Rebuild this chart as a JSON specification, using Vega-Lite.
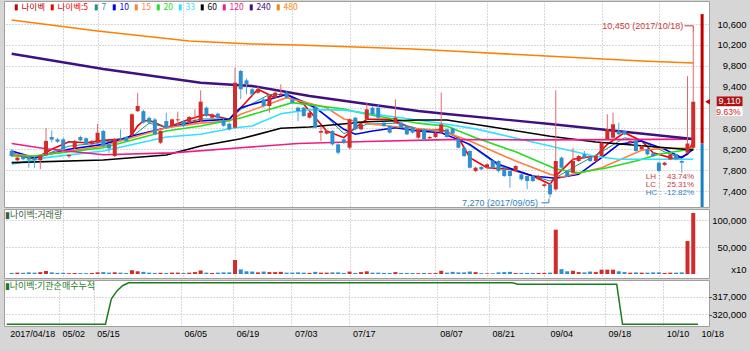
{
  "$schema": "https://vega.github.io/schema/vega-lite/v6.json",
  "background": "#d6d6d6",
  "padding": {"left": 3, "top": 0, "right": 0, "bottom": 11},
  "spacing": 2,
  "bounds": "flush",
  "config": {
    "view": {"stroke": "#a0a0a0", "fill": "#ffffff"},
    "font": "Liberation Sans",
    "axis": {"labelFont": "Liberation Sans", "labelFontSize": 9, "labelColor": "#000000", "domain": false, "ticks": false, "tickSize": 0, "gridDash": [1, 2], "gridColor": "#b0b0b0", "title": null, "labelOverlap": false}
  },
  "datasets": {
    "candles": [
      {"i":0,"o":8170,"h":8200,"l":8050,"c":8070,"v":2000,"inst":-321730},
      {"i":1,"o":7990,"h":8070,"l":7970,"c":8040,"v":2500,"inst":-321730},
      {"i":2,"o":8070,"h":8090,"l":7990,"c":8010,"v":2200,"inst":-321730},
      {"i":3,"o":8050,"h":8070,"l":7850,"c":8000,"v":3000,"inst":-321730},
      {"i":4,"o":8030,"h":8050,"l":7840,"c":7990,"v":2500,"inst":-321730},
      {"i":5,"o":7990,"h":8100,"l":7820,"c":8080,"v":3500,"inst":-321730},
      {"i":6,"o":8100,"h":8610,"l":8080,"c":8360,"v":5500,"inst":-321730},
      {"i":7,"o":8435,"h":8560,"l":8330,"c":8385,"v":3000,"inst":-321730},
      {"i":8,"o":8390,"h":8420,"l":8320,"c":8345,"v":2000,"inst":-321730},
      {"i":9,"o":8390,"h":8420,"l":8180,"c":8200,"v":2200,"inst":-321730},
      {"i":10,"o":8065,"h":8110,"l":8030,"c":8090,"v":1500,"inst":-321730},
      {"i":11,"o":8220,"h":8380,"l":8200,"c":8360,"v":1800,"inst":-321730},
      {"i":12,"o":8435,"h":8460,"l":8350,"c":8370,"v":1700,"inst":-321730},
      {"i":13,"o":8410,"h":8430,"l":8280,"c":8295,"v":1600,"inst":-321730},
      {"i":14,"o":8295,"h":8380,"l":8270,"c":8360,"v":2000,"inst":-321730},
      {"i":15,"o":8325,"h":8690,"l":8300,"c":8518,"v":3000,"inst":-321730},
      {"i":16,"o":8550,"h":8570,"l":8240,"c":8260,"v":3500,"inst":-321730},
      {"i":17,"o":8295,"h":8320,"l":8130,"c":8218,"v":2500,"inst":-321730},
      {"i":18,"o":8070,"h":8420,"l":8050,"c":8390,"v":3200,"inst":-317350},
      {"i":19,"o":8410,"h":8580,"l":8360,"c":8385,"v":2500,"inst":-315900},
      {"i":20,"o":8435,"h":8450,"l":8340,"c":8360,"v":1800,"inst":-315000},
      {"i":21,"o":8470,"h":8890,"l":8450,"c":8870,"v":7000,"inst":-314520},
      {"i":22,"o":8930,"h":9280,"l":8910,"c":9030,"v":5000,"inst":-314520},
      {"i":23,"o":8930,"h":8960,"l":8690,"c":8710,"v":4000,"inst":-314520},
      {"i":24,"o":8800,"h":8830,"l":8690,"c":8710,"v":2500,"inst":-314520},
      {"i":25,"o":8770,"h":8800,"l":8470,"c":8486,"v":2000,"inst":-314520},
      {"i":26,"o":8326,"h":8570,"l":8300,"c":8550,"v":2300,"inst":-314520},
      {"i":27,"o":8740,"h":8900,"l":8600,"c":8614,"v":2000,"inst":-314520},
      {"i":28,"o":8645,"h":8790,"l":8630,"c":8773,"v":2600,"inst":-314520},
      {"i":29,"o":8755,"h":8920,"l":8645,"c":8773,"v":2600,"inst":-314520},
      {"i":30,"o":8740,"h":8760,"l":8630,"c":8645,"v":2000,"inst":-314520},
      {"i":31,"o":8710,"h":8840,"l":8690,"c":8818,"v":2400,"inst":-314520},
      {"i":32,"o":8710,"h":8965,"l":8690,"c":8754,"v":3500,"inst":-314520},
      {"i":33,"o":8740,"h":9330,"l":8720,"c":9112,"v":6500,"inst":-314520},
      {"i":34,"o":8997,"h":9020,"l":8820,"c":8837,"v":2500,"inst":-314520},
      {"i":35,"o":8805,"h":8890,"l":8780,"c":8870,"v":2000,"inst":-314520},
      {"i":36,"o":8882,"h":8900,"l":8790,"c":8805,"v":2500,"inst":-314520},
      {"i":37,"o":8760,"h":8780,"l":8630,"c":8650,"v":3000,"inst":-314520},
      {"i":38,"o":8690,"h":8710,"l":8560,"c":8582,"v":3000,"inst":-314520},
      {"i":39,"o":8614,"h":9760,"l":8590,"c":9476,"v":26000,"inst":-314520},
      {"i":40,"o":9700,"h":9720,"l":9160,"c":9350,"v":8500,"inst":-314520},
      {"i":41,"o":9520,"h":9560,"l":9250,"c":9450,"v":5000,"inst":-314520},
      {"i":42,"o":9348,"h":9380,"l":9230,"c":9252,"v":4500,"inst":-314520},
      {"i":43,"o":9284,"h":9400,"l":9260,"c":9348,"v":3000,"inst":-314520},
      {"i":44,"o":9156,"h":9180,"l":9000,"c":9029,"v":4500,"inst":-314520},
      {"i":45,"o":9029,"h":9250,"l":8900,"c":9220,"v":3500,"inst":-314520},
      {"i":46,"o":9188,"h":9320,"l":9170,"c":9284,"v":3500,"inst":-314520},
      {"i":47,"o":9240,"h":9444,"l":9220,"c":9265,"v":4000,"inst":-314520},
      {"i":48,"o":9284,"h":9310,"l":9170,"c":9188,"v":2500,"inst":-314520},
      {"i":49,"o":9156,"h":9180,"l":9070,"c":9093,"v":2500,"inst":-314520},
      {"i":50,"o":8997,"h":9020,"l":8740,"c":8933,"v":3000,"inst":-314520},
      {"i":51,"o":8997,"h":9010,"l":8820,"c":8837,"v":2500,"inst":-314520},
      {"i":52,"o":8805,"h":8920,"l":8790,"c":8901,"v":2000,"inst":-314520},
      {"i":53,"o":8997,"h":9020,"l":8600,"c":8614,"v":4000,"inst":-314520},
      {"i":54,"o":8518,"h":8645,"l":8358,"c":8550,"v":2500,"inst":-314520},
      {"i":55,"o":8499,"h":8570,"l":8480,"c":8550,"v":2500,"inst":-314520},
      {"i":56,"o":8550,"h":8570,"l":8270,"c":8294,"v":3000,"inst":-314520},
      {"i":57,"o":8294,"h":8310,"l":8100,"c":8135,"v":3000,"inst":-314520},
      {"i":58,"o":8390,"h":8410,"l":8300,"c":8326,"v":2000,"inst":-314520},
      {"i":59,"o":8230,"h":8790,"l":8200,"c":8773,"v":4500,"inst":-314520},
      {"i":60,"o":8805,"h":8820,"l":8560,"c":8582,"v":2000,"inst":-314520},
      {"i":61,"o":8582,"h":8700,"l":8560,"c":8678,"v":3500,"inst":-314520},
      {"i":62,"o":8773,"h":9093,"l":8750,"c":8965,"v":5000,"inst":-314520},
      {"i":63,"o":8997,"h":9020,"l":8850,"c":8869,"v":2500,"inst":-314520},
      {"i":64,"o":8997,"h":9050,"l":8790,"c":8805,"v":2500,"inst":-314520},
      {"i":65,"o":8710,"h":8730,"l":8630,"c":8646,"v":2000,"inst":-314520},
      {"i":66,"o":8646,"h":8660,"l":8500,"c":8518,"v":2000,"inst":-314520},
      {"i":67,"o":8710,"h":9156,"l":8690,"c":8805,"v":3500,"inst":-314520},
      {"i":68,"o":8710,"h":8730,"l":8600,"c":8614,"v":2000,"inst":-314520},
      {"i":69,"o":8646,"h":8660,"l":8470,"c":8486,"v":2000,"inst":-314520},
      {"i":70,"o":8620,"h":8640,"l":8500,"c":8520,"v":1800,"inst":-314520},
      {"i":71,"o":8422,"h":8600,"l":8400,"c":8582,"v":1500,"inst":-314520},
      {"i":72,"o":8582,"h":8600,"l":8370,"c":8390,"v":1800,"inst":-314520},
      {"i":73,"o":8409,"h":8460,"l":8390,"c":8435,"v":1500,"inst":-314520},
      {"i":74,"o":8435,"h":8540,"l":8420,"c":8518,"v":1800,"inst":-314520},
      {"i":75,"o":8518,"h":9284,"l":8500,"c":8678,"v":6000,"inst":-314520},
      {"i":76,"o":8582,"h":8600,"l":8420,"c":8435,"v":2500,"inst":-314520},
      {"i":77,"o":8600,"h":8620,"l":8480,"c":8500,"v":4000,"inst":-314520},
      {"i":78,"o":8390,"h":8410,"l":8210,"c":8230,"v":3000,"inst":-314520},
      {"i":79,"o":8230,"h":8250,"l":8050,"c":8071,"v":3000,"inst":-314520},
      {"i":80,"o":8167,"h":8180,"l":7830,"c":7847,"v":4500,"inst":-314520},
      {"i":81,"o":7783,"h":7870,"l":7760,"c":7847,"v":3500,"inst":-314520},
      {"i":82,"o":7860,"h":7880,"l":7800,"c":7815,"v":1500,"inst":-314520},
      {"i":83,"o":7860,"h":7930,"l":7840,"c":7911,"v":1200,"inst":-314520},
      {"i":84,"o":7975,"h":7990,"l":7830,"c":7847,"v":1500,"inst":-314520},
      {"i":85,"o":7975,"h":7990,"l":7760,"c":7783,"v":3000,"inst":-314520},
      {"i":86,"o":7815,"h":7830,"l":7670,"c":7687,"v":3500,"inst":-314520},
      {"i":87,"o":7783,"h":7800,"l":7464,"c":7687,"v":4000,"inst":-314520},
      {"i":88,"o":7783,"h":7900,"l":7760,"c":7879,"v":2000,"inst":-314800},
      {"i":89,"o":7719,"h":7740,"l":7600,"c":7624,"v":2000,"inst":-314800},
      {"i":90,"o":7687,"h":7700,"l":7432,"c":7592,"v":2000,"inst":-314800},
      {"i":91,"o":7687,"h":7710,"l":7570,"c":7592,"v":2000,"inst":-314800},
      {"i":92,"o":7624,"h":7710,"l":7600,"c":7687,"v":2000,"inst":-314800},
      {"i":93,"o":7496,"h":7560,"l":7470,"c":7528,"v":2000,"inst":-314800},
      {"i":94,"o":7528,"h":7550,"l":7270,"c":7336,"v":2500,"inst":-314800},
      {"i":95,"o":7432,"h":9330,"l":7400,"c":7975,"v":82000,"inst":-314800},
      {"i":96,"o":8039,"h":8060,"l":7830,"c":7847,"v":9000,"inst":-314800},
      {"i":97,"o":7783,"h":7800,"l":7670,"c":7687,"v":5000,"inst":-314800},
      {"i":98,"o":7751,"h":8230,"l":7730,"c":7975,"v":6000,"inst":-314800},
      {"i":99,"o":7975,"h":8090,"l":7960,"c":8071,"v":3500,"inst":-314800},
      {"i":100,"o":8103,"h":8167,"l":8020,"c":8039,"v":3000,"inst":-314800},
      {"i":101,"o":8039,"h":8060,"l":7960,"c":7975,"v":4500,"inst":-314800},
      {"i":102,"o":7975,"h":8090,"l":7960,"c":8071,"v":3500,"inst":-314800},
      {"i":103,"o":8071,"h":8340,"l":8050,"c":8326,"v":8000,"inst":-314800},
      {"i":104,"o":8390,"h":8870,"l":8370,"c":8582,"v":8000,"inst":-314800},
      {"i":105,"o":8422,"h":8900,"l":8400,"c":8678,"v":8000,"inst":-314800},
      {"i":106,"o":8550,"h":8710,"l":8470,"c":8486,"v":5000,"inst":-321730},
      {"i":107,"o":8550,"h":8570,"l":8470,"c":8486,"v":3500,"inst":-321730},
      {"i":108,"o":8326,"h":8380,"l":8300,"c":8358,"v":2500,"inst":-321730},
      {"i":109,"o":8358,"h":8380,"l":8150,"c":8167,"v":3000,"inst":-321730},
      {"i":110,"o":8199,"h":8280,"l":8180,"c":8262,"v":2500,"inst":-321730},
      {"i":111,"o":8199,"h":8220,"l":8080,"c":8103,"v":2500,"inst":-321730},
      {"i":112,"o":8120,"h":8140,"l":8050,"c":8070,"v":3000,"inst":-321730},
      {"i":113,"o":7943,"h":7960,"l":7760,"c":7783,"v":3000,"inst":-321730},
      {"i":114,"o":7900,"h":7960,"l":7880,"c":7943,"v":2000,"inst":-321730},
      {"i":115,"o":8007,"h":8120,"l":7990,"c":8103,"v":2500,"inst":-321730},
      {"i":116,"o":8103,"h":8120,"l":7990,"c":8007,"v":2500,"inst":-321730},
      {"i":117,"o":7975,"h":7990,"l":7751,"c":7943,"v":3000,"inst":-321730},
      {"i":118,"o":8135,"h":9600,"l":8120,"c":8310,"v":61000,"inst":-321730},
      {"i":119,"o":8230,"h":10450,"l":8200,"c":9110,"v":113000,"inst":-321730}
    ],
    "ma": [
      {"ma":"5","i":0,"v":8103},{"ma":"5","i":4,"v":8013},{"ma":"5","i":7,"v":8199},{"ma":"5","i":10,"v":8345},{"ma":"5","i":13,"v":8326},{"ma":"5","i":16,"v":8371},{"ma":"5","i":20,"v":8400},{"ma":"5","i":21,"v":8480},{"ma":"5","i":22,"v":8650},{"ma":"5","i":23,"v":8742},{"ma":"5","i":24,"v":8755},{"ma":"5","i":27,"v":8613},{"ma":"5","i":31,"v":8774},{"ma":"5","i":34,"v":8870},{"ma":"5","i":38,"v":8774},{"ma":"5","i":40,"v":8996},{"ma":"5","i":43,"v":9349},{"ma":"5","i":46,"v":9188},{"ma":"5","i":48,"v":9253},{"ma":"5","i":51,"v":9061},{"ma":"5","i":55,"v":8550},{"ma":"5","i":58,"v":8422},{"ma":"5","i":60,"v":8613},{"ma":"5","i":62,"v":8774},{"ma":"5","i":66,"v":8774},{"ma":"5","i":69,"v":8646},{"ma":"5","i":72,"v":8550},{"ma":"5","i":75,"v":8582},{"ma":"5","i":78,"v":8422},{"ma":"5","i":80,"v":8040},{"ma":"5","i":83,"v":7847},{"ma":"5","i":87,"v":7816},{"ma":"5","i":91,"v":7688},{"ma":"5","i":94,"v":7528},{"ma":"5","i":95,"v":7688},{"ma":"5","i":98,"v":8007},{"ma":"5","i":102,"v":8071},{"ma":"5","i":104,"v":8294},{"ma":"5","i":107,"v":8518},{"ma":"5","i":110,"v":8358},{"ma":"5","i":112,"v":8134},{"ma":"5","i":116,"v":8007},{"ma":"5","i":118,"v":8103},{"ma":"5","i":119,"v":8358},
      {"ma":"7","i":0,"v":8130},{"ma":"7","i":4,"v":8030},{"ma":"7","i":10,"v":8260},{"ma":"7","i":16,"v":8330},{"ma":"7","i":21,"v":8440},{"ma":"7","i":24,"v":8700},{"ma":"7","i":27,"v":8620},{"ma":"7","i":33,"v":8780},{"ma":"7","i":38,"v":8780},{"ma":"7","i":40,"v":8960},{"ma":"7","i":45,"v":9250},{"ma":"7","i":48,"v":9250},{"ma":"7","i":53,"v":9030},{"ma":"7","i":58,"v":8500},{"ma":"7","i":62,"v":8680},{"ma":"7","i":67,"v":8700},{"ma":"7","i":72,"v":8560},{"ma":"7","i":76,"v":8550},{"ma":"7","i":81,"v":8200},{"ma":"7","i":85,"v":7880},{"ma":"7","i":91,"v":7690},{"ma":"7","i":94,"v":7590},{"ma":"7","i":98,"v":7850},{"ma":"7","i":103,"v":8150},{"ma":"7","i":107,"v":8420},{"ma":"7","i":110,"v":8350},{"ma":"7","i":114,"v":8150},{"ma":"7","i":117,"v":8020},{"ma":"7","i":119,"v":8250},
      {"ma":"10","i":0,"v":8167},{"ma":"10","i":4,"v":8039},{"ma":"10","i":10,"v":8199},{"ma":"10","i":16,"v":8294},{"ma":"10","i":21,"v":8454},{"ma":"10","i":27,"v":8613},{"ma":"10","i":33,"v":8742},{"ma":"10","i":38,"v":8774},{"ma":"10","i":39,"v":8900},{"ma":"10","i":40,"v":8996},{"ma":"10","i":48,"v":9253},{"ma":"10","i":53,"v":8996},{"ma":"10","i":58,"v":8582},{"ma":"10","i":60,"v":8487},{"ma":"10","i":63,"v":8550},{"ma":"10","i":67,"v":8613},{"ma":"10","i":71,"v":8550},{"ma":"10","i":75,"v":8518},{"ma":"10","i":80,"v":8294},{"ma":"10","i":85,"v":7911},{"ma":"10","i":91,"v":7688},{"ma":"10","i":95,"v":7644},{"ma":"10","i":99,"v":7720},{"ma":"10","i":103,"v":8039},{"ma":"10","i":106,"v":8294},{"ma":"10","i":110,"v":8358},{"ma":"10","i":114,"v":8199},{"ma":"10","i":117,"v":8039},{"ma":"10","i":119,"v":8199},
      {"ma":"15","i":0,"v":8103},{"ma":"15","i":4,"v":8071},{"ma":"15","i":16,"v":8262},{"ma":"15","i":27,"v":8613},{"ma":"15","i":33,"v":8700},{"ma":"15","i":38,"v":8740},{"ma":"15","i":40,"v":8870},{"ma":"15","i":48,"v":9188},{"ma":"15","i":55,"v":8996},{"ma":"15","i":58,"v":8780},{"ma":"15","i":63,"v":8678},{"ma":"15","i":69,"v":8613},{"ma":"15","i":75,"v":8560},{"ma":"15","i":80,"v":8358},{"ma":"15","i":88,"v":7975},{"ma":"15","i":94,"v":7720},{"ma":"15","i":96,"v":7668},{"ma":"15","i":103,"v":7847},{"ma":"15","i":110,"v":8180},{"ma":"15","i":114,"v":8218},{"ma":"15","i":119,"v":8218},
      {"ma":"20","i":0,"v":8071},{"ma":"20","i":4,"v":8071},{"ma":"20","i":16,"v":8230},{"ma":"20","i":27,"v":8550},{"ma":"20","i":33,"v":8646},{"ma":"20","i":40,"v":8800},{"ma":"20","i":49,"v":9093},{"ma":"20","i":58,"v":8971},{"ma":"20","i":62,"v":8870},{"ma":"20","i":71,"v":8700},{"ma":"20","i":76,"v":8640},{"ma":"20","i":81,"v":8422},{"ma":"20","i":88,"v":8150},{"ma":"20","i":95,"v":7820},{"ma":"20","i":99,"v":7751},{"ma":"20","i":104,"v":7847},{"ma":"20","i":109,"v":7975},{"ma":"20","i":113,"v":8103},{"ma":"20","i":119,"v":8210},
      {"ma":"33","i":0,"v":7912},{"ma":"33","i":6,"v":8039},{"ma":"33","i":16,"v":8167},{"ma":"33","i":27,"v":8435},{"ma":"33","i":33,"v":8487},{"ma":"33","i":39,"v":8613},{"ma":"33","i":42,"v":8646},{"ma":"33","i":47,"v":8880},{"ma":"33","i":52,"v":8960},{"ma":"33","i":58,"v":8950},{"ma":"33","i":68,"v":8805},{"ma":"33","i":76,"v":8680},{"ma":"33","i":81,"v":8590},{"ma":"33","i":85,"v":8490},{"ma":"33","i":94,"v":8262},{"ma":"33","i":102,"v":8060},{"ma":"33","i":106,"v":8008},{"ma":"33","i":119,"v":8010},
      {"ma":"60","i":0,"v":7943},{"ma":"60","i":16,"v":7994},{"ma":"60","i":27,"v":8090},{"ma":"60","i":33,"v":8262},{"ma":"60","i":40,"v":8400},{"ma":"60","i":47,"v":8602},{"ma":"60","i":52,"v":8627},{"ma":"60","i":62,"v":8728},{"ma":"60","i":71,"v":8760},{"ma":"60","i":76,"v":8760},{"ma":"60","i":85,"v":8607},{"ma":"60","i":94,"v":8450},{"ma":"60","i":102,"v":8339},{"ma":"60","i":119,"v":8186},
      {"ma":"120","i":0,"v":8310},{"ma":"120","i":6,"v":8210},{"ma":"120","i":16,"v":8095},{"ma":"120","i":28,"v":8130},{"ma":"120","i":40,"v":8230},{"ma":"120","i":50,"v":8310},{"ma":"120","i":62,"v":8350},{"ma":"120","i":76,"v":8385},{"ma":"120","i":90,"v":8380},{"ma":"120","i":105,"v":8385},{"ma":"120","i":119,"v":8395},
      {"ma":"240","i":0,"v":10030},{"ma":"240","i":16,"v":9738},{"ma":"240","i":33,"v":9475},{"ma":"240","i":42,"v":9412},{"ma":"240","i":52,"v":9220},{"ma":"240","i":62,"v":9067},{"ma":"240","i":71,"v":8933},{"ma":"240","i":76,"v":8876},{"ma":"240","i":94,"v":8684},{"ma":"240","i":119,"v":8397},
      {"ma":"480","i":0,"v":10677},{"ma":"480","i":15,"v":10466},{"ma":"480","i":31,"v":10274},{"ma":"480","i":42,"v":10217},{"ma":"480","i":50,"v":10198},{"ma":"480","i":60,"v":10160},{"ma":"480","i":70,"v":10120},{"ma":"480","i":80,"v":10063},{"ma":"480","i":90,"v":10006},{"ma":"480","i":100,"v":9950},{"ma":"480","i":110,"v":9890},{"ma":"480","i":119,"v":9853}
    ]
  },
  "vconcat": [
    {
      "width": 705,
      "height": 206,
      "layer": [
        {
          "data": {"name": "ma"},
          "mark": {"type": "line"},
          "encoding": {
            "x": {"field": "i", "type": "quantitative", "scale": {"domain": [-0.465, 120.88], "nice": false, "zero": false},
                  "axis": {"values": [0,9,15,30,39,49,59,74,83,93,103,113,119], "tickCount": 40, "labels": false, "grid": true, "gridDash": [1,2],
                           "gridColor": {"condition": {"test": "datum.value==0||datum.value==119", "value": "transparent"}, "value": "#b0b0b0"},
                           "domain": false, "ticks": false, "title": null}},
            "y": {"field": "v", "type": "quantitative", "scale": {"domain": [7093.7, 11040.7], "nice": false, "zero": false},
                  "axis": {"orient": "right", "values": [7400,7800,8200,8600,9000,9400,9800,10200,10600], "tickCount": 30,
                           "labelExpr": "datum.value==9000?'':format(datum.value, ',')", "labelAlign": "right", "labelPadding": 37,
                           "labelBaseline": "middle", "labelFontSize": 9.5, "labelOverlap": false, "grid": true, "gridDash": [1,2], "gridColor": "#b0b0b0",
                           "domain": false, "ticks": false, "title": null, "minExtent": 42, "maxExtent": 42}},
            "color": {"field": "ma", "type": "nominal",
                      "scale": {"domain": ["나이벡","5","7","10","15","20","33","60","120","240","480"],
                                "range": ["#c00000","#ee0000","#1f8f7f","#0000e6","#ff7f3f","#22dd22","#33e0ff","#000000","#ee1c84","#3f1080","#ff8000"]},
                      "legend": {"orient": "none", "legendX": 8, "legendY": 2, "direction": "horizontal", "title": null,
                                 "symbolType": "M-0.5,-1H0.5V1H-0.5Z", "symbolSize": 36, "symbolStrokeWidth": 0,
                                 "labelFont": "Noto Sans CJK KR", "labelFontSize": 8.5, "labelOffset": 1, "columnPadding": 3, "padding": 0,
                                 "labelExpr": "datum.label==='5'?'나이벡:5':datum.label",
                                 "encode": {
                                   "symbols": {"update": {"fill": {"signal": "datum.value==='나이벡'?'#c00000':datum.value==='5'?'#ee0000':datum.value==='7'?'#1f8f7f':datum.value==='10'?'#0000e6':datum.value==='15'?'#ff7f3f':datum.value==='20'?'#22dd22':datum.value==='33'?'#33e0ff':datum.value==='60'?'#000000':datum.value==='120'?'#ee1c84':datum.value==='240'?'#3f1080':'#ff8000'"}, "stroke": {"value": "transparent"}, "opacity": {"value": 1}}},
                                   "labels": {"update": {"fill": {"signal": "datum.value==='나이벡'?'#c00000':datum.value==='5'?'#ee0000':datum.value==='7'?'#1f8f7f':datum.value==='10'?'#0000e6':datum.value==='15'?'#ff7f3f':datum.value==='20'?'#22dd22':datum.value==='33'?'#33e0ff':datum.value==='60'?'#000000':datum.value==='120'?'#ee1c84':datum.value==='240'?'#3f1080':'#ff8000'"}}}
                                 }}},
            "strokeWidth": {"condition": [{"test": "datum.ma==='240'", "value": 2.4}, {"test": "datum.ma==='7'", "value": 1}], "value": 1.6}
          }
        },
        {
          "data": {"name": "candles"},
          "mark": {"type": "rule", "strokeWidth": 1},
          "encoding": {
            "x": {"field": "i", "type": "quantitative"},
            "y": {"field": "l", "type": "quantitative"},
            "y2": {"field": "h"},
            "color": {"condition": {"test": "datum.c>=datum.o", "value": "#e06a6a"}, "value": "#5aa6d8"}
          }
        },
        {
          "data": {"name": "candles"},
          "mark": {"type": "bar", "size": 4},
          "encoding": {
            "x": {"field": "i", "type": "quantitative"},
            "y": {"field": "o", "type": "quantitative"},
            "y2": {"field": "c"},
            "color": {"condition": {"test": "datum.c>=datum.o", "value": "#d12b2b"}, "value": "#2f8fce"}
          }
        },
        {
          "data": {"values": [{}]},
          "mark": {"type": "rule", "strokeWidth": 3, "color": "#c00000", "clip": false},
          "encoding": {"x": {"datum": 120.55, "type": "quantitative"}, "y": {"datum": 8310, "type": "quantitative"}, "y2": {"datum": 10790}}
        },
        {
          "data": {"values": [{}]},
          "mark": {"type": "rule", "strokeWidth": 3, "color": "#1a80c4", "clip": false},
          "encoding": {"x": {"datum": 120.55, "type": "quantitative"}, "y": {"datum": 7093.7, "type": "quantitative"}, "y2": {"datum": 8310}}
        },
        {
          "data": {"values": [{}]},
          "mark": {"type": "point", "shape": "triangle-left", "filled": true, "size": 30, "color": "#c00000", "opacity": 1, "clip": false},
          "encoding": {"x": {"datum": 121.5, "type": "quantitative"}, "y": {"datum": 9110, "type": "quantitative"}}
        },
        {
          "data": {"values": [{}]},
          "mark": {"type": "rect", "color": "#b01010", "clip": false},
          "encoding": {"x": {"datum": 123.1, "type": "quantitative"}, "x2": {"datum": 127.6}, "y": {"datum": 9029, "type": "quantitative"}, "y2": {"datum": 9211}}
        },
        {
          "data": {"values": [{}]},
          "mark": {"type": "rect", "color": "#ffffff", "clip": false},
          "encoding": {"x": {"datum": 123.1, "type": "quantitative"}, "x2": {"datum": 127.6}, "y": {"datum": 8837, "type": "quantitative"}, "y2": {"datum": 9010}}
        },
        {
          "data": {"values": [{}]},
          "mark": {"type": "text", "align": "right", "baseline": "middle", "color": "#ffffff", "fontSize": 9, "font": "Liberation Sans", "clip": false},
          "encoding": {"x": {"datum": 127.25, "type": "quantitative"}, "y": {"datum": 9120, "type": "quantitative"}, "text": {"value": "9,110"}}
        },
        {
          "data": {"values": [{}]},
          "mark": {"type": "text", "align": "right", "baseline": "middle", "color": "#d02020", "fontSize": 8.5, "font": "Liberation Sans", "clip": false},
          "encoding": {"x": {"datum": 127.25, "type": "quantitative"}, "y": {"datum": 8914, "type": "quantitative"}, "text": {"value": "9.63%"}}
        },
        {
          "data": {"values": [{"i": 119, "p": 10450, "t": "10,450 (2017/10/18)"}]},
          "mark": {"type": "text", "align": "right", "baseline": "middle", "dx": -10, "dy": -6, "color": "#c83c3c", "fontSize": 9, "font": "Liberation Sans"},
          "encoding": {"x": {"field": "i", "type": "quantitative"}, "y": {"field": "p", "type": "quantitative"}, "text": {"field": "t"}}
        },
        {
          "data": {"values": [{"k": 1, "i": 117.5, "p": 10565}, {"k": 2, "i": 119, "p": 10565}, {"k": 3, "i": 119, "p": 10450}]},
          "mark": {"type": "line", "color": "#c83c3c", "strokeWidth": 1},
          "encoding": {"x": {"field": "i", "type": "quantitative"}, "y": {"field": "p", "type": "quantitative"}, "order": {"field": "k"}}
        },
        {
          "data": {"values": [{"i": 94, "p": 7270, "t": "7,270 (2017/09/05)"}]},
          "mark": {"type": "text", "align": "right", "baseline": "middle", "dx": -12, "dy": 5, "color": "#2f7fbf", "fontSize": 9, "font": "Liberation Sans"},
          "encoding": {"x": {"field": "i", "type": "quantitative"}, "y": {"field": "p", "type": "quantitative"}, "text": {"field": "t"}}
        },
        {
          "data": {"values": [{"k": 1, "i": 92.5, "p": 7174}, {"k": 2, "i": 93.8, "p": 7174}, {"k": 3, "i": 93.8, "p": 7255}]},
          "mark": {"type": "line", "color": "#2f7fbf", "strokeWidth": 1},
          "encoding": {"x": {"field": "i", "type": "quantitative"}, "y": {"field": "p", "type": "quantitative"}, "order": {"field": "k"}}
        },
        {
          "data": {"values": [{"k": "LH :", "val": "43.74%", "p": 7668}, {"k": "LC :", "val": "25.31%", "p": 7515}, {"k": "HC :", "val": "-12.82%", "p": 7362}]},
          "mark": {"type": "text", "align": "left", "baseline": "middle", "fontSize": 8, "font": "Liberation Sans"},
          "encoding": {"x": {"datum": 110.7, "type": "quantitative"}, "y": {"field": "p", "type": "quantitative"}, "text": {"field": "k"},
                       "color": {"condition": {"test": "datum.k==='HC :'", "value": "#2f7fbf"}, "value": "#c83c3c"}}
        },
        {
          "data": {"values": [{"k": "LH :", "val": "43.74%", "p": 7668}, {"k": "LC :", "val": "25.31%", "p": 7515}, {"k": "HC :", "val": "-12.82%", "p": 7362}]},
          "mark": {"type": "text", "align": "right", "baseline": "middle", "fontSize": 8, "font": "Liberation Sans"},
          "encoding": {"x": {"datum": 119.15, "type": "quantitative"}, "y": {"field": "p", "type": "quantitative"}, "text": {"field": "val"},
                       "color": {"condition": {"test": "datum.k==='HC :'", "value": "#2f7fbf"}, "value": "#c83c3c"}}
        }
      ]
    },
    {
      "width": 705,
      "height": 69,
      "title": {"text": "▮나이벡:거래량", "anchor": "start", "orient": "top", "offset": -11, "dx": 1, "font": "Noto Sans CJK KR", "fontSize": 9, "fontWeight": "normal", "color": "#3a5f3a"},
      "data": {"name": "candles"},
      "mark": {"type": "bar", "size": 4},
      "encoding": {
        "x": {"field": "i", "type": "quantitative", "scale": {"domain": [-0.465, 120.88], "nice": false, "zero": false},
              "axis": {"values": [0,9,15,30,39,49,59,74,83,93,103,113,119], "tickCount": 40, "labels": false, "grid": true, "gridDash": [1,2],
                       "gridColor": {"condition": {"test": "datum.value==0||datum.value==119", "value": "transparent"}, "value": "#b0b0b0"},
                       "domain": false, "ticks": false, "title": null}},
        "y": {"field": "v", "type": "quantitative", "scale": {"domain": [-7408, 120380], "nice": false, "zero": false},
              "axis": {"orient": "right", "values": [9000, 50000, 100000], "tickCount": 10,
                       "labelExpr": "datum.value==9000?'x10':format(datum.value, ',')", "labelAlign": "right", "labelPadding": 37,
                       "labelBaseline": "middle", "labelFontSize": 9.5, "labelOverlap": false, "grid": true, "gridDash": [1,2],
                       "gridColor": {"condition": {"test": "datum.value==9000", "value": "transparent"}, "value": "#b0b0b0"},
                       "domain": false, "ticks": false, "title": null, "minExtent": 42, "maxExtent": 42}},
        "y2": {"datum": 0},
        "color": {"condition": {"test": "datum.c>=datum.o", "value": "#d12b2b"}, "value": "#2f8fce"}
      }
    },
    {
      "width": 705,
      "height": 46,
      "title": {"text": "▮나이벡:기관순매수누적", "anchor": "start", "orient": "top", "offset": -11, "dx": 1, "font": "Noto Sans CJK KR", "fontSize": 9, "fontWeight": "normal", "color": "#1f7a1f"},
      "data": {"name": "candles"},
      "mark": {"type": "line", "color": "#1f7a1f", "strokeWidth": 1.5},
      "encoding": {
        "x": {"field": "i", "type": "quantitative", "scale": {"domain": [-0.465, 120.88], "nice": false, "zero": false},
              "axis": {"values": [0,9,15,30,39,49,59,74,83,93,103,113,119], "tickCount": 40,
                       "labelExpr": "datum.value==0?'2017/04/18':datum.value==9?'05/02':datum.value==15?'05/15':datum.value==30?'06/05':datum.value==39?'06/19':datum.value==49?'07/03':datum.value==59?'07/17':datum.value==74?'08/07':datum.value==83?'08/21':datum.value==93?'09/04':datum.value==103?'09/18':datum.value==113?'10/10':'10/18'",
                       "labelAlign": "left", "labelOffset": 3, "labelPadding": 3, "labelFontSize": 9, "labelFlush": false, "labelOverlap": false, "labelBound": false,
                       "grid": true, "gridDash": [1,2],
                       "gridColor": {"condition": {"test": "datum.value==0||datum.value==119", "value": "transparent"}, "value": "#b0b0b0"},
                       "domain": false, "ticks": false, "title": null, "minExtent": 15, "maxExtent": 15}},
        "y": {"field": "inst", "type": "quantitative", "scale": {"domain": [-322029, -314052], "nice": false, "zero": false},
              "axis": {"orient": "right", "values": [-320000, -317000], "tickCount": 10,
                       "labelExpr": "'-' + format(-datum.value, ',')", "labelAlign": "right", "labelPadding": 37,
                       "labelBaseline": "middle", "labelFontSize": 9.5, "labelOverlap": false, "grid": true, "gridDash": [1,2], "gridColor": "#b0b0b0",
                       "domain": false, "ticks": false, "title": null, "minExtent": 42, "maxExtent": 42}}
      }
    }
  ]
}
